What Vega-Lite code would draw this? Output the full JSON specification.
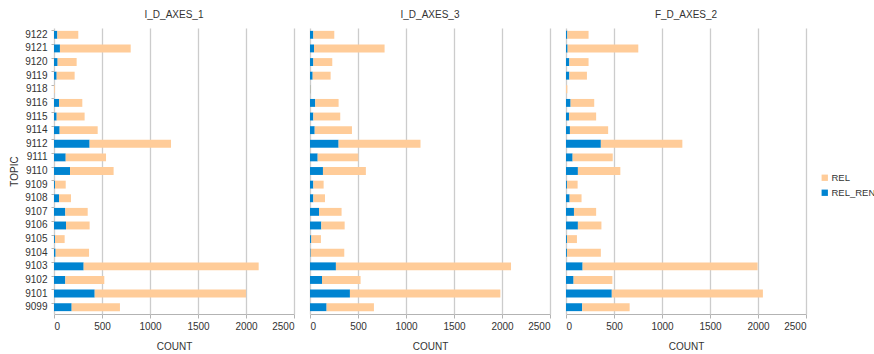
{
  "$schema": "https://vega.github.io/schema/vega-lite/v6.json",
  "padding": {"left": 9, "top": 10, "right": 0, "bottom": 0},
  "background": "white",
  "config": {
    "font": "Liberation Sans",
    "view": {"stroke": null},
    "axis": {"labelFont": "Liberation Sans", "titleFont": "Liberation Sans", "labelFontSize": 10, "titleFontSize": 10, "labelColor": "#333", "titleColor": "#333", "titleFontWeight": "normal", "domainColor": "#b3b3b3", "tickColor": "#b3b3b3", "gridColor": "#cccccc", "gridWidth": 1.3},
    "header": {"labelFont": "Liberation Sans", "labelFontSize": 10, "labelColor": "#333"},
    "legend": {"labelFont": "Liberation Sans", "labelFontSize": 9.5, "labelColor": "#333"}
  },
  "data": {
    "values": [
      {"axes": "I_D_AXES_1", "topic": "9122", "series": "REL_REN", "count": 35}, {"axes": "I_D_AXES_1", "topic": "9122", "series": "REL", "count": 218},
      {"axes": "I_D_AXES_1", "topic": "9121", "series": "REL_REN", "count": 62}, {"axes": "I_D_AXES_1", "topic": "9121", "series": "REL", "count": 737},
      {"axes": "I_D_AXES_1", "topic": "9120", "series": "REL_REN", "count": 38}, {"axes": "I_D_AXES_1", "topic": "9120", "series": "REL", "count": 198},
      {"axes": "I_D_AXES_1", "topic": "9119", "series": "REL_REN", "count": 28}, {"axes": "I_D_AXES_1", "topic": "9119", "series": "REL", "count": 187},
      {"axes": "I_D_AXES_1", "topic": "9118", "series": "REL_REN", "count": 0}, {"axes": "I_D_AXES_1", "topic": "9118", "series": "REL", "count": 8},
      {"axes": "I_D_AXES_1", "topic": "9116", "series": "REL_REN", "count": 52}, {"axes": "I_D_AXES_1", "topic": "9116", "series": "REL", "count": 243},
      {"axes": "I_D_AXES_1", "topic": "9115", "series": "REL_REN", "count": 28}, {"axes": "I_D_AXES_1", "topic": "9115", "series": "REL", "count": 291},
      {"axes": "I_D_AXES_1", "topic": "9114", "series": "REL_REN", "count": 59}, {"axes": "I_D_AXES_1", "topic": "9114", "series": "REL", "count": 396},
      {"axes": "I_D_AXES_1", "topic": "9112", "series": "REL_REN", "count": 371}, {"axes": "I_D_AXES_1", "topic": "9112", "series": "REL", "count": 848},
      {"axes": "I_D_AXES_1", "topic": "9111", "series": "REL_REN", "count": 122}, {"axes": "I_D_AXES_1", "topic": "9111", "series": "REL", "count": 420},
      {"axes": "I_D_AXES_1", "topic": "9110", "series": "REL_REN", "count": 167}, {"axes": "I_D_AXES_1", "topic": "9110", "series": "REL", "count": 454},
      {"axes": "I_D_AXES_1", "topic": "9109", "series": "REL_REN", "count": 10}, {"axes": "I_D_AXES_1", "topic": "9109", "series": "REL", "count": 112},
      {"axes": "I_D_AXES_1", "topic": "9108", "series": "REL_REN", "count": 52}, {"axes": "I_D_AXES_1", "topic": "9108", "series": "REL", "count": 125},
      {"axes": "I_D_AXES_1", "topic": "9107", "series": "REL_REN", "count": 118}, {"axes": "I_D_AXES_1", "topic": "9107", "series": "REL", "count": 233},
      {"axes": "I_D_AXES_1", "topic": "9106", "series": "REL_REN", "count": 125}, {"axes": "I_D_AXES_1", "topic": "9106", "series": "REL", "count": 246},
      {"axes": "I_D_AXES_1", "topic": "9105", "series": "REL_REN", "count": 10}, {"axes": "I_D_AXES_1", "topic": "9105", "series": "REL", "count": 101},
      {"axes": "I_D_AXES_1", "topic": "9104", "series": "REL_REN", "count": 17}, {"axes": "I_D_AXES_1", "topic": "9104", "series": "REL", "count": 348},
      {"axes": "I_D_AXES_1", "topic": "9103", "series": "REL_REN", "count": 309}, {"axes": "I_D_AXES_1", "topic": "9103", "series": "REL", "count": 1823},
      {"axes": "I_D_AXES_1", "topic": "9102", "series": "REL_REN", "count": 118}, {"axes": "I_D_AXES_1", "topic": "9102", "series": "REL", "count": 406},
      {"axes": "I_D_AXES_1", "topic": "9101", "series": "REL_REN", "count": 424}, {"axes": "I_D_AXES_1", "topic": "9101", "series": "REL", "count": 1576},
      {"axes": "I_D_AXES_1", "topic": "9099", "series": "REL_REN", "count": 184}, {"axes": "I_D_AXES_1", "topic": "9099", "series": "REL", "count": 503},

      {"axes": "I_D_AXES_3", "topic": "9122", "series": "REL_REN", "count": 35}, {"axes": "I_D_AXES_3", "topic": "9122", "series": "REL", "count": 218},
      {"axes": "I_D_AXES_3", "topic": "9121", "series": "REL_REN", "count": 42}, {"axes": "I_D_AXES_3", "topic": "9121", "series": "REL", "count": 735},
      {"axes": "I_D_AXES_3", "topic": "9120", "series": "REL_REN", "count": 35}, {"axes": "I_D_AXES_3", "topic": "9120", "series": "REL", "count": 197},
      {"axes": "I_D_AXES_3", "topic": "9119", "series": "REL_REN", "count": 28}, {"axes": "I_D_AXES_3", "topic": "9119", "series": "REL", "count": 187},
      {"axes": "I_D_AXES_3", "topic": "9118", "series": "REL_REN", "count": 4}, {"axes": "I_D_AXES_3", "topic": "9118", "series": "REL", "count": 5},
      {"axes": "I_D_AXES_3", "topic": "9116", "series": "REL_REN", "count": 55}, {"axes": "I_D_AXES_3", "topic": "9116", "series": "REL", "count": 243},
      {"axes": "I_D_AXES_3", "topic": "9115", "series": "REL_REN", "count": 35}, {"axes": "I_D_AXES_3", "topic": "9115", "series": "REL", "count": 280},
      {"axes": "I_D_AXES_3", "topic": "9114", "series": "REL_REN", "count": 49}, {"axes": "I_D_AXES_3", "topic": "9114", "series": "REL", "count": 388},
      {"axes": "I_D_AXES_3", "topic": "9112", "series": "REL_REN", "count": 298}, {"axes": "I_D_AXES_3", "topic": "9112", "series": "REL", "count": 853},
      {"axes": "I_D_AXES_3", "topic": "9111", "series": "REL_REN", "count": 80}, {"axes": "I_D_AXES_3", "topic": "9111", "series": "REL", "count": 423},
      {"axes": "I_D_AXES_3", "topic": "9110", "series": "REL_REN", "count": 135}, {"axes": "I_D_AXES_3", "topic": "9110", "series": "REL", "count": 447},
      {"axes": "I_D_AXES_3", "topic": "9109", "series": "REL_REN", "count": 35}, {"axes": "I_D_AXES_3", "topic": "9109", "series": "REL", "count": 107},
      {"axes": "I_D_AXES_3", "topic": "9108", "series": "REL_REN", "count": 35}, {"axes": "I_D_AXES_3", "topic": "9108", "series": "REL", "count": 121},
      {"axes": "I_D_AXES_3", "topic": "9107", "series": "REL_REN", "count": 94}, {"axes": "I_D_AXES_3", "topic": "9107", "series": "REL", "count": 235},
      {"axes": "I_D_AXES_3", "topic": "9106", "series": "REL_REN", "count": 118}, {"axes": "I_D_AXES_3", "topic": "9106", "series": "REL", "count": 243},
      {"axes": "I_D_AXES_3", "topic": "9105", "series": "REL_REN", "count": 14}, {"axes": "I_D_AXES_3", "topic": "9105", "series": "REL", "count": 100},
      {"axes": "I_D_AXES_3", "topic": "9104", "series": "REL_REN", "count": 7}, {"axes": "I_D_AXES_3", "topic": "9104", "series": "REL", "count": 350},
      {"axes": "I_D_AXES_3", "topic": "9103", "series": "REL_REN", "count": 270}, {"axes": "I_D_AXES_3", "topic": "9103", "series": "REL", "count": 1824},
      {"axes": "I_D_AXES_3", "topic": "9102", "series": "REL_REN", "count": 125}, {"axes": "I_D_AXES_3", "topic": "9102", "series": "REL", "count": 402},
      {"axes": "I_D_AXES_3", "topic": "9101", "series": "REL_REN", "count": 416}, {"axes": "I_D_AXES_3", "topic": "9101", "series": "REL", "count": 1567},
      {"axes": "I_D_AXES_3", "topic": "9099", "series": "REL_REN", "count": 173}, {"axes": "I_D_AXES_3", "topic": "9099", "series": "REL", "count": 493},

      {"axes": "F_D_AXES_2", "topic": "9122", "series": "REL_REN", "count": 14}, {"axes": "F_D_AXES_2", "topic": "9122", "series": "REL", "count": 221},
      {"axes": "F_D_AXES_2", "topic": "9121", "series": "REL_REN", "count": 17}, {"axes": "F_D_AXES_2", "topic": "9121", "series": "REL", "count": 736},
      {"axes": "F_D_AXES_2", "topic": "9120", "series": "REL_REN", "count": 35}, {"axes": "F_D_AXES_2", "topic": "9120", "series": "REL", "count": 200},
      {"axes": "F_D_AXES_2", "topic": "9119", "series": "REL_REN", "count": 35}, {"axes": "F_D_AXES_2", "topic": "9119", "series": "REL", "count": 183},
      {"axes": "F_D_AXES_2", "topic": "9118", "series": "REL_REN", "count": 0}, {"axes": "F_D_AXES_2", "topic": "9118", "series": "REL", "count": 14},
      {"axes": "F_D_AXES_2", "topic": "9116", "series": "REL_REN", "count": 48}, {"axes": "F_D_AXES_2", "topic": "9116", "series": "REL", "count": 246},
      {"axes": "F_D_AXES_2", "topic": "9115", "series": "REL_REN", "count": 31}, {"axes": "F_D_AXES_2", "topic": "9115", "series": "REL", "count": 283},
      {"axes": "F_D_AXES_2", "topic": "9114", "series": "REL_REN", "count": 41}, {"axes": "F_D_AXES_2", "topic": "9114", "series": "REL", "count": 398},
      {"axes": "F_D_AXES_2", "topic": "9112", "series": "REL_REN", "count": 363}, {"axes": "F_D_AXES_2", "topic": "9112", "series": "REL", "count": 849},
      {"axes": "F_D_AXES_2", "topic": "9111", "series": "REL_REN", "count": 69}, {"axes": "F_D_AXES_2", "topic": "9111", "series": "REL", "count": 418},
      {"axes": "F_D_AXES_2", "topic": "9110", "series": "REL_REN", "count": 124}, {"axes": "F_D_AXES_2", "topic": "9110", "series": "REL", "count": 442},
      {"axes": "F_D_AXES_2", "topic": "9109", "series": "REL_REN", "count": 10}, {"axes": "F_D_AXES_2", "topic": "9109", "series": "REL", "count": 111},
      {"axes": "F_D_AXES_2", "topic": "9108", "series": "REL_REN", "count": 38}, {"axes": "F_D_AXES_2", "topic": "9108", "series": "REL", "count": 124},
      {"axes": "F_D_AXES_2", "topic": "9107", "series": "REL_REN", "count": 83}, {"axes": "F_D_AXES_2", "topic": "9107", "series": "REL", "count": 231},
      {"axes": "F_D_AXES_2", "topic": "9106", "series": "REL_REN", "count": 124}, {"axes": "F_D_AXES_2", "topic": "9106", "series": "REL", "count": 245},
      {"axes": "F_D_AXES_2", "topic": "9105", "series": "REL_REN", "count": 10}, {"axes": "F_D_AXES_2", "topic": "9105", "series": "REL", "count": 104},
      {"axes": "F_D_AXES_2", "topic": "9104", "series": "REL_REN", "count": 10}, {"axes": "F_D_AXES_2", "topic": "9104", "series": "REL", "count": 353},
      {"axes": "F_D_AXES_2", "topic": "9103", "series": "REL_REN", "count": 173}, {"axes": "F_D_AXES_2", "topic": "9103", "series": "REL", "count": 1823},
      {"axes": "F_D_AXES_2", "topic": "9102", "series": "REL_REN", "count": 79}, {"axes": "F_D_AXES_2", "topic": "9102", "series": "REL", "count": 404},
      {"axes": "F_D_AXES_2", "topic": "9101", "series": "REL_REN", "count": 477}, {"axes": "F_D_AXES_2", "topic": "9101", "series": "REL", "count": 1574},
      {"axes": "F_D_AXES_2", "topic": "9099", "series": "REL_REN", "count": 169}, {"axes": "F_D_AXES_2", "topic": "9099", "series": "REL", "count": 494}
    ]
  },
  "facet": {
    "column": {
      "field": "axes",
      "type": "nominal",
      "sort": ["I_D_AXES_1", "I_D_AXES_3", "F_D_AXES_2"],
      "header": {"title": null, "labelPadding": 8}
    }
  },
  "spacing": 16,
  "spec": {
    "width": 240,
    "height": 286,
    "mark": {"type": "bar"},
    "encoding": {
      "y": {
        "field": "topic",
        "type": "nominal",
        "sort": "descending",
        "title": "TOPIC",
        "scale": {"paddingInner": 0.42, "paddingOuter": 0.21},
        "axis": {"domain": false, "bandPosition": 0, "tickSize": 3, "labelPadding": 4, "titlePadding": 5}
      },
      "x": {
        "field": "count",
        "type": "quantitative",
        "stack": "zero",
        "title": "COUNT",
        "scale": {"domain": [0, 2500], "nice": false},
        "axis": {"values": [0, 500, 1000, 1500, 2000, 2500], "format": "d", "tickSize": 4, "labelPadding": 3, "titlePadding": 10, "domain": true}
      },
      "color": {
        "field": "series",
        "type": "nominal",
        "scale": {"domain": ["REL", "REL_REN"], "range": ["#ffcc99", "#0084d1"]},
        "legend": {"title": null, "orient": "none", "legendX": 766, "legendY": 145, "symbolType": "square", "symbolSize": 40, "symbolStrokeWidth": 0, "rowPadding": 4, "labelOffset": 2, "labelLimit": 60}
      },
      "order": {"field": "series", "sort": "descending"}
    }
  }
}
